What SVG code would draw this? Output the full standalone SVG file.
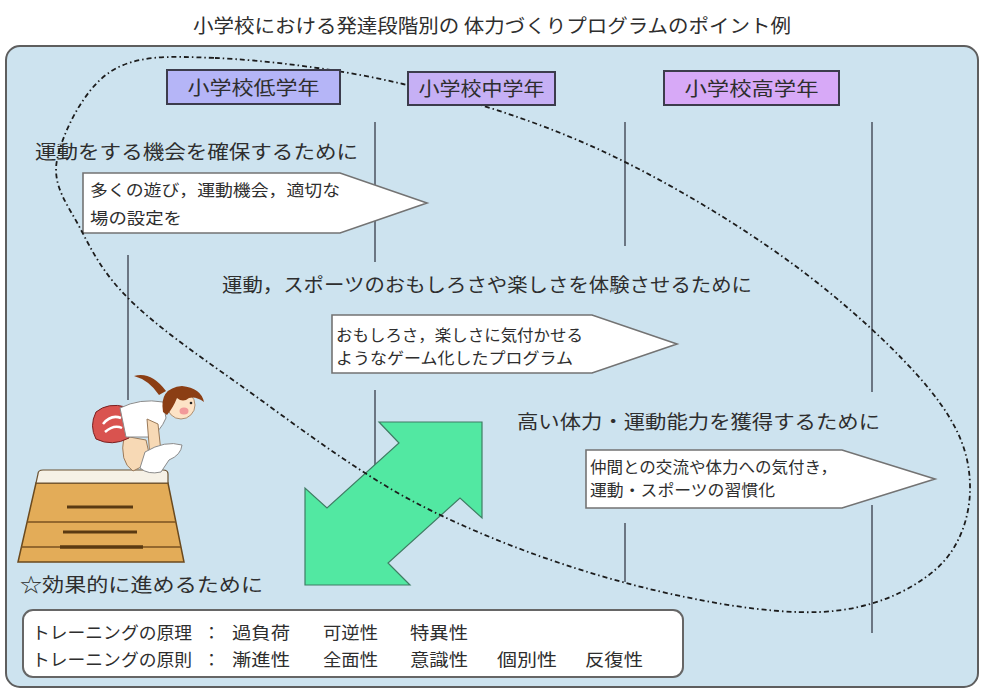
<svg xmlns="http://www.w3.org/2000/svg" width="985" height="693" viewBox="0 0 985 693">
  <style>
    text { font-family: "Noto Sans CJK JP", "Noto Sans CJK SC", sans-serif; fill: #2e2e2e; }
    .title { font-size: 19px; }
    .head { font-size: 19px; text-anchor: middle; }
    .lead { font-size: 19px; }
    .note { font-size: 16px; }
    .rule { font-size: 17px; }
    .guide { stroke: #6b7683; stroke-width: 2; fill: none; }
    .tag { fill: #ffffff; stroke: #737373; stroke-width: 1.6; }
    .grade { stroke: #3c3c4c; stroke-width: 2; }
  </style>

  <rect width="985" height="693" fill="#ffffff"/>

  <!-- title -->
  <text class="title" x="193" y="33" textLength="598" lengthAdjust="spacingAndGlyphs">小学校における発達段階別の 体力づくりプログラムのポイント例</text>

  <!-- main panel -->
  <rect id="panel" x="6" y="46" width="972" height="641" rx="14" fill="#cde3ef" stroke="#5e5e5e" stroke-width="2"/>

  <!-- vertical stage separators -->
  <g id="connectors">
    <line class="guide" x1="375" y1="122" x2="375" y2="262"/>
    <line class="guide" x1="625" y1="122" x2="625" y2="246"/>
    <line class="guide" x1="872" y1="122" x2="872" y2="392"/>
    <line class="guide" x1="128" y1="255" x2="128" y2="400"/>
    <line class="guide" x1="375" y1="390" x2="375" y2="478"/>
    <line class="guide" x1="625" y1="523" x2="625" y2="582"/>
    <line class="guide" x1="872" y1="505" x2="872" y2="633"/>
  </g>

  <!-- stage 1 -->
  <g id="aim-low">
    <text class="lead" x="35" y="159" textLength="323" lengthAdjust="spacingAndGlyphs">運動をする機会を確保するために</text>
    <polygon class="tag" points="83,173 340,173 427,203 340,233 83,233"/>
    <text class="note" x="90" y="196" textLength="250" lengthAdjust="spacingAndGlyphs">多くの遊び，運動機会，適切な</text>
    <text class="note" x="90" y="224" textLength="92" lengthAdjust="spacingAndGlyphs">場の設定を</text>
  </g>

  <!-- stage 2 -->
  <g id="aim-mid">
    <text class="lead" x="222" y="292" textLength="530" lengthAdjust="spacingAndGlyphs">運動，スポーツのおもしろさや楽しさを体験させるために</text>
    <polygon class="tag" points="332,315 592,315 677,344 592,373 332,373"/>
    <text class="note" x="336" y="341" textLength="247" lengthAdjust="spacingAndGlyphs">おもしろさ，楽しさに気付かせる</text>
    <text class="note" x="336" y="364" textLength="237" lengthAdjust="spacingAndGlyphs">ようなゲーム化したプログラム</text>
  </g>

  <!-- stage 3 -->
  <g id="aim-high">
    <text class="lead" x="517" y="429" textLength="363" lengthAdjust="spacingAndGlyphs">高い体力・運動能力を獲得するために</text>
    <polygon class="tag" points="586,450 842,450 935,479 842,508 586,508"/>
    <text class="note" x="590" y="473" textLength="247" lengthAdjust="spacingAndGlyphs">仲間との交流や体力への気付き，</text>
    <text class="note" x="590" y="496" textLength="185" lengthAdjust="spacingAndGlyphs">運動・スポーツの習慣化</text>
  </g>

  <!-- double-headed diagonal arrow -->
  <g id="arrow">
    <polygon points="379,422 482,422 482,518 460,498 388,563 410,585 305,585 305,488 327,508 399,443" fill="#52e8a2" stroke="#3f7d64" stroke-width="1.2"/>
  </g>

  <!-- vaulting box -->
  <g id="vault">
    <path d="M36,483 L168,483 L184,562 L18,562 Z" fill="#e3ac58" stroke="#6b4a1e" stroke-width="1.5"/>
    <path d="M38,474 Q38,470 43,470 L163,470 Q168,470 168,474 L168,483 L36,483 Z" fill="#f6f1e6" stroke="#6b5232" stroke-width="1.2"/>
    <line x1="27" y1="522" x2="176" y2="522" stroke="#7a5220" stroke-width="1.5"/>
    <line x1="21" y1="547" x2="181" y2="547" stroke="#7a5220" stroke-width="1.5"/>
    <line x1="67" y1="507" x2="133" y2="507" stroke="#5a3a12" stroke-width="3"/>
    <line x1="63" y1="532" x2="137" y2="532" stroke="#5a3a12" stroke-width="3"/>
    <line x1="60" y1="547" x2="143" y2="547" stroke="#5a3a12" stroke-width="3.5"/>
  </g>

  <!-- child crouching on the box -->
  <g id="child">
    <path d="M124,436 L146,440 L151,462 L133,471 Q119,462 124,436 Z" fill="#f7d9b5" stroke="#9a7a5a" stroke-width="1"/>
    <path d="M96,412 Q108,402 126,407 L129,438 Q112,447 96,439 Q89,426 96,412 Z" fill="#d9534f" stroke="#7a2020" stroke-width="1"/>
    <path d="M103,424 Q111,414 121,418 M105,432 Q114,424 122,428" stroke="#ffffff" stroke-width="2.5" fill="none"/>
    <path d="M120,408 Q140,398 163,402 L166,418 Q160,432 150,437 L126,437 Z" fill="#ffffff" stroke="#8a8a8a" stroke-width="1"/>
    <path d="M147,419 L158,424 L161,452 L150,457 Z" fill="#f7d9b5" stroke="#9a7a5a" stroke-width="1"/>
    <path d="M145,452 Q165,440 182,445 Q181,455 169,460 L161,472 Q148,475 140,468 Z" fill="#ffffff" stroke="#8a8a8a" stroke-width="1"/>
    <path d="M166,391 Q151,371 134,376 Q149,380 159,395 Z" fill="#8b3e14"/>
    <circle cx="181" cy="405" r="14" fill="#fde3c6" stroke="#9a7a5a" stroke-width="0.8"/>
    <path d="M163,412 Q159,388 182,386 Q201,388 204,402 Q196,396 189,398 Q183,403 177,398 Q173,408 167,415 Z" fill="#8b3e14"/>
    <ellipse cx="184" cy="411" rx="4.5" ry="3.5" fill="#f29a9a"/>
    <circle cx="191" cy="403" r="1.3" fill="#222"/>
  </g>

  <text id="tip" class="lead" x="20" y="592" textLength="243" lengthAdjust="spacingAndGlyphs">☆効果的に進めるために</text>

  <!-- dash-dot loop -->
  <g id="loop">
    <path d="M215,58 C263.8,60 338.8,68.7 403,84 C467.2,99.3 535.5,120.3 600,150 C664.5,179.7 735,222 790,262 C845,302 900,352.8 930,390 C960,427.2 969.2,455 970,485 C970.8,515 960,548.8 935,570 C910,591.2 871.5,609.8 820,612 C768.5,614.2 692.7,600.8 626,583 C559.3,565.2 484.3,538 420,505 C355.7,472 288.3,419.2 240,385 C191.7,350.8 156.7,326.2 130,300 C103.3,273.8 92.2,251.3 80,228 C67.8,204.7 52,186 57,160 C62,134 83.7,89 110,72 C136.3,55 166.2,56 215,58 Z" fill="none" stroke="#1c1c1c" stroke-width="1.8" stroke-dasharray="5 3 1.5 3"/>
  </g>

  <!-- grade headers -->
  <g id="grade-low">
    <rect class="grade" x="167" y="70" width="173" height="34" fill="#b5b5f7"/>
    <text class="head" x="253.5" y="95" textLength="132" lengthAdjust="spacingAndGlyphs">小学校低学年</text>
  </g>
  <g id="grade-mid">
    <rect class="grade" x="408" y="72" width="147" height="33" fill="#c6b0f5"/>
    <text class="head" x="481.5" y="96" textLength="126" lengthAdjust="spacingAndGlyphs">小学校中学年</text>
  </g>
  <g id="grade-high">
    <rect class="grade" x="664" y="71" width="175" height="34" fill="#d7a9f7"/>
    <text class="head" x="751.5" y="96" textLength="134" lengthAdjust="spacingAndGlyphs">小学校高学年</text>
  </g>

  <!-- training principles -->
  <g id="principles">
    <rect x="23" y="610" width="660" height="67" rx="10" fill="#ffffff" stroke="#666666" stroke-width="2"/>
    <text class="rule" x="32" y="639" textLength="160" lengthAdjust="spacingAndGlyphs">トレーニングの原理</text>
    <text class="rule" x="203" y="639">：</text>
    <text class="rule" x="232" y="639" textLength="58" lengthAdjust="spacingAndGlyphs">過負荷</text>
    <text class="rule" x="323" y="639" textLength="55" lengthAdjust="spacingAndGlyphs">可逆性</text>
    <text class="rule" x="410" y="639" textLength="58" lengthAdjust="spacingAndGlyphs">特異性</text>
    <text class="rule" x="32" y="666" textLength="160" lengthAdjust="spacingAndGlyphs">トレーニングの原則</text>
    <text class="rule" x="203" y="666">：</text>
    <text class="rule" x="232" y="666" textLength="58" lengthAdjust="spacingAndGlyphs">漸進性</text>
    <text class="rule" x="323" y="666" textLength="55" lengthAdjust="spacingAndGlyphs">全面性</text>
    <text class="rule" x="410" y="666" textLength="58" lengthAdjust="spacingAndGlyphs">意識性</text>
    <text class="rule" x="497" y="666" textLength="60" lengthAdjust="spacingAndGlyphs">個別性</text>
    <text class="rule" x="585" y="666" textLength="58" lengthAdjust="spacingAndGlyphs">反復性</text>
  </g>
</svg>
